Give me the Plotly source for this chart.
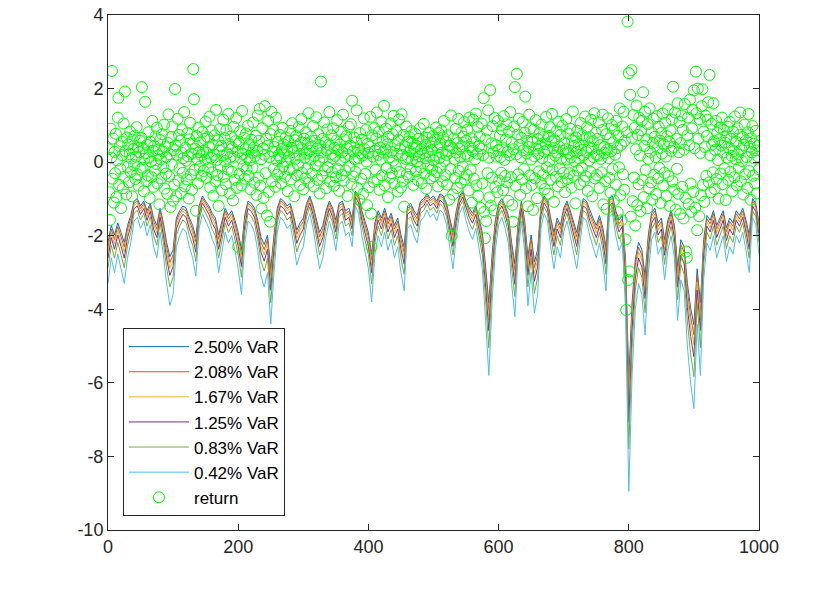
import plotly.graph_objects as go

# ---------------- data ----------------
var_x = list(range(0, 1001, 5))

var_250 = [
-2.18,-1.72,-1.98,-1.65,-1.91,-2.18,-1.72,-1.45,-1.06,-0.99,
-1.19,-1.06,-1.32,-1.12,-1.52,-1.72,-1.25,-1.65,-2.18,-2.57,
-2.38,-1.52,-1.32,-1.19,-1.25,-1.52,-1.72,-2.05,-1.19,-0.92,
-1.06,-1.19,-1.39,-1.52,-1.98,-1.58,-1.25,-1.45,-1.32,-1.58,
-1.91,-2.38,-1.45,-1.06,-1.12,-1.25,-1.58,-2.05,-2.24,-1.98,
-2.90,-1.98,-1.25,-0.99,-1.06,-1.19,-1.12,-1.45,-1.85,-1.65,
-1.52,-1.12,-0.92,-1.19,-1.52,-1.91,-1.72,-1.32,-1.06,-1.25,
-1.58,-1.12,-1.06,-1.32,-1.25,-1.52,-0.79,-0.92,-1.32,-1.65,
-1.91,-2.51,-1.65,-1.32,-1.52,-1.25,-1.58,-1.39,-1.72,-1.52,
-1.98,-2.31,-1.19,-1.12,-1.32,-1.45,-1.06,-0.99,-0.86,-0.99,
-0.92,-1.06,-0.86,-0.92,-1.12,-1.52,-1.91,-1.32,-0.92,-0.79,
-1.06,-1.25,-1.39,-1.19,-1.52,-1.91,-2.84,-3.83,-2.51,-1.58,
-1.12,-0.99,-1.19,-1.45,-2.18,-2.77,-1.65,-1.06,-1.58,-2.57,
-1.98,-2.71,-2.38,-1.19,-0.92,-1.06,-1.52,-1.91,-1.52,-1.72,
-1.25,-1.06,-1.32,-1.65,-1.91,-1.45,-0.99,-1.06,-1.32,-1.52,
-1.72,-1.45,-1.78,-2.31,-0.99,-0.92,-1.32,-1.58,-1.45,-2.64,
-5.91,-3.83,-2.64,-2.18,-2.38,-3.10,-1.98,-1.39,-1.25,-1.65,
-1.52,-2.11,-1.58,-1.32,-1.72,-2.84,-2.11,-2.31,-3.30,-3.96,
-4.42,-2.90,-3.83,-2.11,-1.45,-1.58,-1.32,-1.72,-1.52,-1.32,
-1.78,-1.52,-1.65,-1.32,-1.45,-1.25,-1.58,-1.98,-0.99,-1.12,
-1.65]

var_208 = [
-2.31,-1.82,-2.10,-1.75,-2.03,-2.31,-1.82,-1.54,-1.12,-1.05,
-1.26,-1.12,-1.40,-1.19,-1.61,-1.82,-1.33,-1.75,-2.31,-2.73,
-2.52,-1.61,-1.40,-1.26,-1.33,-1.61,-1.82,-2.17,-1.26,-0.98,
-1.12,-1.26,-1.47,-1.61,-2.10,-1.68,-1.33,-1.54,-1.40,-1.68,
-2.03,-2.52,-1.54,-1.12,-1.19,-1.33,-1.68,-2.17,-2.38,-2.10,
-3.08,-2.10,-1.33,-1.05,-1.12,-1.26,-1.19,-1.54,-1.96,-1.75,
-1.61,-1.19,-0.98,-1.26,-1.61,-2.03,-1.82,-1.40,-1.12,-1.33,
-1.68,-1.19,-1.12,-1.40,-1.33,-1.61,-0.84,-0.98,-1.40,-1.75,
-2.03,-2.66,-1.75,-1.40,-1.61,-1.33,-1.68,-1.47,-1.82,-1.61,
-2.10,-2.45,-1.26,-1.19,-1.40,-1.54,-1.12,-1.05,-0.91,-1.05,
-0.98,-1.12,-0.91,-0.98,-1.19,-1.61,-2.03,-1.40,-0.98,-0.84,
-1.12,-1.33,-1.47,-1.26,-1.61,-2.03,-3.01,-4.06,-2.66,-1.68,
-1.19,-1.05,-1.26,-1.54,-2.31,-2.94,-1.75,-1.12,-1.68,-2.73,
-2.10,-2.87,-2.52,-1.26,-0.98,-1.12,-1.61,-2.03,-1.61,-1.82,
-1.33,-1.12,-1.40,-1.75,-2.03,-1.54,-1.05,-1.12,-1.40,-1.61,
-1.82,-1.54,-1.89,-2.45,-1.05,-0.98,-1.40,-1.68,-1.54,-2.80,
-6.27,-4.06,-2.80,-2.31,-2.52,-3.29,-2.10,-1.47,-1.33,-1.75,
-1.61,-2.24,-1.68,-1.40,-1.82,-3.01,-2.24,-2.45,-3.50,-4.20,
-4.69,-3.08,-4.06,-2.24,-1.54,-1.68,-1.40,-1.82,-1.61,-1.40,
-1.89,-1.61,-1.75,-1.40,-1.54,-1.33,-1.68,-2.10,-1.05,-1.19,
-1.75]

var_167 = [
-2.44,-1.92,-2.22,-1.85,-2.15,-2.44,-1.92,-1.63,-1.18,-1.11,
-1.33,-1.18,-1.48,-1.26,-1.70,-1.92,-1.41,-1.85,-2.44,-2.89,
-2.66,-1.70,-1.48,-1.33,-1.41,-1.70,-1.92,-2.29,-1.33,-1.04,
-1.18,-1.33,-1.55,-1.70,-2.22,-1.78,-1.41,-1.63,-1.48,-1.78,
-2.15,-2.66,-1.63,-1.18,-1.26,-1.41,-1.78,-2.29,-2.52,-2.22,
-3.26,-2.22,-1.41,-1.11,-1.18,-1.33,-1.26,-1.63,-2.07,-1.85,
-1.70,-1.26,-1.04,-1.33,-1.70,-2.15,-1.92,-1.48,-1.18,-1.41,
-1.78,-1.26,-1.18,-1.48,-1.41,-1.70,-0.89,-1.04,-1.48,-1.85,
-2.15,-2.81,-1.85,-1.48,-1.70,-1.41,-1.78,-1.55,-1.92,-1.70,
-2.22,-2.59,-1.33,-1.26,-1.48,-1.63,-1.18,-1.11,-0.96,-1.11,
-1.04,-1.18,-0.96,-1.04,-1.26,-1.70,-2.15,-1.48,-1.04,-0.89,
-1.18,-1.41,-1.55,-1.33,-1.70,-2.15,-3.18,-4.29,-2.81,-1.78,
-1.26,-1.11,-1.33,-1.63,-2.44,-3.11,-1.85,-1.18,-1.78,-2.89,
-2.22,-3.03,-2.66,-1.33,-1.04,-1.18,-1.70,-2.15,-1.70,-1.92,
-1.41,-1.18,-1.48,-1.85,-2.15,-1.63,-1.11,-1.18,-1.48,-1.70,
-1.92,-1.63,-2.00,-2.59,-1.11,-1.04,-1.48,-1.78,-1.63,-2.96,
-6.62,-4.29,-2.96,-2.44,-2.66,-3.48,-2.22,-1.55,-1.41,-1.85,
-1.70,-2.37,-1.78,-1.48,-1.92,-3.18,-2.37,-2.59,-3.70,-4.44,
-4.96,-3.26,-4.29,-2.37,-1.63,-1.78,-1.48,-1.92,-1.70,-1.48,
-2.00,-1.70,-1.85,-1.48,-1.63,-1.41,-1.78,-2.22,-1.11,-1.26,
-1.85]

var_125 = [
-2.61,-2.05,-2.37,-1.98,-2.29,-2.61,-2.05,-1.74,-1.26,-1.19,
-1.42,-1.26,-1.58,-1.34,-1.82,-2.05,-1.50,-1.98,-2.61,-3.08,
-2.84,-1.82,-1.58,-1.42,-1.50,-1.82,-2.05,-2.45,-1.42,-1.11,
-1.26,-1.42,-1.66,-1.82,-2.37,-1.90,-1.50,-1.74,-1.58,-1.90,
-2.29,-2.84,-1.74,-1.26,-1.34,-1.50,-1.90,-2.45,-2.69,-2.37,
-3.48,-2.37,-1.50,-1.19,-1.26,-1.42,-1.34,-1.74,-2.21,-1.98,
-1.82,-1.34,-1.11,-1.42,-1.82,-2.29,-2.05,-1.58,-1.26,-1.50,
-1.90,-1.34,-1.26,-1.58,-1.50,-1.82,-0.95,-1.11,-1.58,-1.98,
-2.29,-3.00,-1.98,-1.58,-1.82,-1.50,-1.90,-1.66,-2.05,-1.82,
-2.37,-2.77,-1.42,-1.34,-1.58,-1.74,-1.26,-1.19,-1.03,-1.19,
-1.11,-1.26,-1.03,-1.11,-1.34,-1.82,-2.29,-1.58,-1.11,-0.95,
-1.26,-1.50,-1.66,-1.42,-1.82,-2.29,-3.40,-4.58,-3.00,-1.90,
-1.34,-1.19,-1.42,-1.74,-2.61,-3.32,-1.98,-1.26,-1.90,-3.08,
-2.37,-3.24,-2.84,-1.42,-1.11,-1.26,-1.82,-2.29,-1.82,-2.05,
-1.50,-1.26,-1.58,-1.98,-2.29,-1.74,-1.19,-1.26,-1.58,-1.82,
-2.05,-1.74,-2.13,-2.77,-1.19,-1.11,-1.58,-1.90,-1.74,-3.16,
-7.07,-4.58,-3.16,-2.61,-2.84,-3.71,-2.37,-1.66,-1.50,-1.98,
-1.82,-2.53,-1.90,-1.58,-2.05,-3.40,-2.53,-2.77,-3.95,-4.74,
-5.29,-3.48,-4.58,-2.53,-1.74,-1.90,-1.58,-2.05,-1.82,-1.58,
-2.13,-1.82,-1.98,-1.58,-1.74,-1.50,-1.90,-2.37,-1.19,-1.34,
-1.98]

var_083 = [
-2.87,-2.26,-2.61,-2.18,-2.52,-2.87,-2.26,-1.91,-1.39,-1.31,
-1.57,-1.39,-1.74,-1.48,-2.00,-2.26,-1.65,-2.18,-2.87,-3.39,
-3.13,-2.00,-1.74,-1.57,-1.65,-2.00,-2.26,-2.70,-1.57,-1.22,
-1.39,-1.57,-1.83,-2.00,-2.61,-2.09,-1.65,-1.91,-1.74,-2.09,
-2.52,-3.13,-1.91,-1.39,-1.48,-1.65,-2.09,-2.70,-2.96,-2.61,
-3.83,-2.61,-1.65,-1.31,-1.39,-1.57,-1.48,-1.91,-2.44,-2.18,
-2.00,-1.48,-1.22,-1.57,-2.00,-2.52,-2.26,-1.74,-1.39,-1.65,
-2.09,-1.48,-1.39,-1.74,-1.65,-2.00,-1.04,-1.22,-1.74,-2.18,
-2.52,-3.31,-2.18,-1.74,-2.00,-1.65,-2.09,-1.83,-2.26,-2.00,
-2.61,-3.05,-1.57,-1.48,-1.74,-1.91,-1.39,-1.31,-1.13,-1.31,
-1.22,-1.39,-1.13,-1.22,-1.48,-2.00,-2.52,-1.74,-1.22,-1.04,
-1.39,-1.65,-1.83,-1.57,-2.00,-2.52,-3.74,-5.05,-3.31,-2.09,
-1.48,-1.31,-1.57,-1.91,-2.87,-3.65,-2.18,-1.39,-2.09,-3.39,
-2.61,-3.57,-3.13,-1.57,-1.22,-1.39,-2.00,-2.52,-2.00,-2.26,
-1.65,-1.39,-1.74,-2.18,-2.52,-1.91,-1.31,-1.39,-1.74,-2.00,
-2.26,-1.91,-2.35,-3.05,-1.31,-1.22,-1.74,-2.09,-1.91,-3.48,
-7.79,-5.05,-3.48,-2.87,-3.13,-4.09,-2.61,-1.83,-1.65,-2.18,
-2.00,-2.78,-2.09,-1.74,-2.26,-3.74,-2.78,-3.05,-4.35,-5.22,
-5.83,-3.83,-5.05,-2.78,-1.91,-2.09,-1.74,-2.26,-2.00,-1.74,
-2.35,-2.00,-2.18,-1.74,-1.91,-1.65,-2.09,-2.61,-1.31,-1.48,
-2.18]

var_042 = [
-3.30,-2.60,-3.00,-2.50,-2.90,-3.30,-2.60,-2.20,-1.60,-1.50,
-1.80,-1.60,-2.00,-1.70,-2.30,-2.60,-1.90,-2.50,-3.30,-3.90,
-3.60,-2.30,-2.00,-1.80,-1.90,-2.30,-2.60,-3.10,-1.80,-1.40,
-1.60,-1.80,-2.10,-2.30,-3.00,-2.40,-1.90,-2.20,-2.00,-2.40,
-2.90,-3.60,-2.20,-1.60,-1.70,-1.90,-2.40,-3.10,-3.40,-3.00,
-4.40,-3.00,-1.90,-1.50,-1.60,-1.80,-1.70,-2.20,-2.80,-2.50,
-2.30,-1.70,-1.40,-1.80,-2.30,-2.90,-2.60,-2.00,-1.60,-1.90,
-2.40,-1.70,-1.60,-2.00,-1.90,-2.30,-1.20,-1.40,-2.00,-2.50,
-2.90,-3.80,-2.50,-2.00,-2.30,-1.90,-2.40,-2.10,-2.60,-2.30,
-3.00,-3.50,-1.80,-1.70,-2.00,-2.20,-1.60,-1.50,-1.30,-1.50,
-1.40,-1.60,-1.30,-1.40,-1.70,-2.30,-2.90,-2.00,-1.40,-1.20,
-1.60,-1.90,-2.10,-1.80,-2.30,-2.90,-4.30,-5.80,-3.80,-2.40,
-1.70,-1.50,-1.80,-2.20,-3.30,-4.20,-2.50,-1.60,-2.40,-3.90,
-3.00,-4.10,-3.60,-1.80,-1.40,-1.60,-2.30,-2.90,-2.30,-2.60,
-1.90,-1.60,-2.00,-2.50,-2.90,-2.20,-1.50,-1.60,-2.00,-2.30,
-2.60,-2.20,-2.70,-3.50,-1.50,-1.40,-2.00,-2.40,-2.20,-4.00,
-8.95,-5.80,-4.00,-3.30,-3.60,-4.70,-3.00,-2.10,-1.90,-2.50,
-2.30,-3.20,-2.40,-2.00,-2.60,-4.30,-3.20,-3.50,-5.00,-6.00,
-6.70,-4.40,-5.80,-3.20,-2.20,-2.40,-2.00,-2.60,-2.30,-2.00,
-2.70,-2.30,-2.50,-2.00,-2.20,-1.90,-2.40,-3.00,-1.50,-1.70,
-2.50]

ret_x = list(range(1, 1001))
returns = [
0.35,-0.82,-1.57,0.91,0.12,2.48,-0.45,0.64,-1.10,0.28,
-0.30,0.77,-0.95,0.05,1.21,1.75,-0.62,0.43,-0.18,-1.25,
0.56,0.19,-0.71,1.05,-0.40,1.92,0.30,-0.88,0.67,-0.12,
0.48,-0.55,0.22,0.83,-0.27,0.10,-0.93,0.61,0.36,-0.08,
0.72,-0.46,0.15,0.95,-0.33,0.40,-0.64,0.27,0.58,-0.20,
0.66,2.04,-0.15,0.38,-0.79,0.09,1.64,0.24,-0.52,0.47,
-0.36,0.81,0.13,-0.98,0.55,0.02,-0.41,1.12,0.31,-0.67,
0.44,-0.23,0.70,-0.05,0.93,-0.58,0.18,0.35,-1.15,0.60,
0.08,-0.44,0.76,0.29,-0.14,1.02,-0.72,0.41,-0.31,0.14,
-0.86,0.52,1.30,-0.39,0.21,-1.22,0.68,-0.07,0.97,-1.05,
0.33,-0.61,1.99,0.45,-0.93,0.20,1.18,-0.50,0.74,-0.17,
0.58,-0.84,0.26,0.89,-0.29,0.11,1.36,-0.66,0.39,0.04,
-0.47,0.79,0.16,-0.99,0.62,1.07,-0.34,0.23,-0.75,0.50,
2.53,1.71,-0.21,0.36,-1.32,0.71,0.09,-0.58,0.94,0.27,
-0.12,0.54,0.19,-0.37,0.82,0.30,-0.24,0.63,0.07,1.10,
-0.43,0.25,0.68,-0.16,0.41,1.24,-0.69,0.12,0.86,-0.28,
0.47,-0.91,0.20,0.73,-0.52,1.42,0.06,-0.35,0.59,-1.19,
0.32,0.90,-0.10,0.44,-0.77,0.18,1.15,-0.40,0.65,0.03,
-0.60,0.87,0.24,-0.19,1.31,0.49,-0.85,0.14,0.70,-0.26,
0.38,-1.04,0.96,0.15,-0.48,0.57,1.20,-0.70,0.28,-2.30,
0.51,-0.32,0.84,0.10,-0.63,1.39,0.22,-0.11,0.66,-0.45,
0.35,0.78,-0.20,0.13,0.99,-0.38,0.46,0.05,-0.74,0.61,
0.26,-0.15,1.08,0.40,-0.56,0.17,0.72,-0.89,0.31,1.27,
-0.42,0.58,1.45,-0.64,0.08,-1.26,0.92,0.37,-0.97,0.20,
1.52,-0.30,0.63,-1.45,0.45,1.12,-0.81,0.14,-1.62,0.76,
1.37,-0.52,0.29,0.88,-0.18,0.41,-0.67,1.21,0.06,-0.34,
0.55,0.19,-0.25,0.74,0.11,-0.58,0.36,0.93,-0.12,0.48,
0.24,-0.40,0.67,0.02,0.33,-0.79,0.57,0.15,-0.21,0.85,
-0.47,0.39,1.06,-0.16,0.27,-0.93,0.60,0.09,0.71,-0.36,
0.43,-0.08,0.95,0.18,-0.62,0.52,1.17,-0.29,0.35,-0.74,
0.64,0.12,-0.44,0.81,0.23,-0.17,0.50,1.33,-0.56,0.30,
0.07,0.69,-0.31,0.42,0.98,-0.66,0.16,0.58,-0.09,1.22,
0.37,-0.48,0.76,0.04,-0.85,0.45,2.19,0.26,-0.37,0.63,
0.13,1.08,-0.22,0.54,-0.71,0.32,0.89,-0.14,0.47,1.36,
-0.53,0.21,0.73,-0.27,0.10,0.92,-0.64,0.39,0.17,-0.41,
0.59,1.14,-0.19,0.34,-0.78,0.48,0.05,0.83,-0.35,0.27,
1.29,-0.50,0.62,0.14,-0.23,0.71,0.38,-0.92,0.20,0.96,
-0.13,0.45,1.03,-0.60,1.67,0.29,-0.39,0.67,0.08,-0.26,
0.54,1.41,-0.70,0.33,0.11,-1.02,0.79,0.24,-0.45,0.61,
0.18,-0.86,1.19,0.36,-0.32,0.87,0.02,-1.17,0.50,0.25,
-0.68,0.42,1.23,-1.40,-2.30,0.73,0.15,-0.54,0.93,0.31,
-0.21,0.64,1.35,-0.47,0.20,0.82,-0.75,0.40,0.07,1.10,
-0.36,0.57,0.26,1.53,-0.63,0.35,0.91,-0.16,0.48,-0.95,
0.69,0.13,-0.42,1.05,0.28,-0.30,0.76,0.04,1.26,-0.58,
0.46,-0.11,0.85,0.22,-0.80,0.60,1.16,-0.27,0.37,-0.69,
1.30,0.19,-0.51,0.74,-1.21,0.43,0.09,0.97,-0.33,0.55,
0.12,-0.40,0.68,0.30,-0.18,0.84,0.06,0.51,-0.62,0.39,
0.21,0.77,-0.25,0.44,0.01,-0.49,0.63,0.16,0.92,-0.14,
0.35,-0.57,0.58,0.24,1.04,-0.31,0.47,0.10,-0.72,0.66,
0.28,-0.09,0.80,0.15,-0.44,0.53,0.33,-0.20,0.71,0.05,
-0.38,0.61,0.18,0.94,-0.27,0.40,-0.66,0.79,0.11,0.49,
-0.15,0.86,0.25,-0.52,0.67,1.12,0.03,-0.35,0.56,0.20,
-0.61,0.73,0.31,-1.02,0.45,-0.19,1.27,-2.00,0.38,-0.88,
0.64,0.09,-0.43,0.90,0.26,-0.70,0.52,1.18,-0.24,0.36,
0.14,-0.56,0.81,0.43,-0.12,0.69,1.09,-0.47,0.22,0.58,
-0.34,0.88,0.17,-0.77,1.21,0.41,-0.20,0.65,-1.10,0.30,
1.15,-0.45,0.54,0.08,1.32,-0.63,0.23,0.96,-0.92,0.44,
0.70,-1.24,0.37,1.05,-0.58,0.19,1.74,-1.35,-2.07,0.62,
-1.60,0.86,-0.30,1.41,0.12,-0.96,1.96,-1.18,0.51,-0.42,
0.98,0.27,-1.31,1.20,-0.67,0.46,0.15,-0.82,1.12,0.33,
-0.50,0.72,0.14,-0.29,0.89,0.40,-0.76,1.25,0.06,-0.38,
0.61,1.03,-0.55,0.28,-1.05,0.83,0.19,1.36,-0.41,0.53,
-1.16,-1.62,0.35,0.97,2.04,-0.64,0.21,2.40,0.75,-0.33,
1.18,0.47,-0.89,0.13,0.66,-0.47,1.09,0.32,-0.19,0.80,
1.78,-0.71,0.24,0.58,-1.20,0.41,1.29,-0.36,0.92,0.07,
-0.62,0.55,-1.30,0.88,0.16,-0.44,1.14,0.37,-0.98,0.63,
0.22,-0.25,0.79,0.45,-0.57,1.02,0.11,-0.35,0.68,0.29,
-0.73,0.49,1.23,-0.14,0.34,-0.86,0.71,0.03,0.95,-0.48,
0.56,1.31,-0.21,0.38,-1.08,0.60,0.18,-0.40,0.84,0.26,
-0.66,1.10,0.42,-0.17,0.74,0.09,-0.54,0.99,0.31,-0.29,
0.52,-0.82,0.35,1.17,0.07,-0.46,0.78,0.24,-0.30,0.91,
0.13,-0.69,0.59,1.38,-0.37,0.44,0.02,-1.12,0.67,0.28,
0.85,-0.23,0.49,0.10,-0.60,1.06,0.33,-0.15,0.73,0.19,
-0.51,0.62,1.24,-0.39,0.27,0.94,-0.78,0.40,0.05,0.68,
-0.26,1.15,0.36,-0.93,0.57,0.14,1.33,-0.44,0.80,0.21,
-0.35,0.63,0.18,1.08,-0.70,0.46,0.09,-0.28,0.87,1.29,
-1.15,0.41,0.25,-0.52,0.76,-1.27,0.34,1.19,0.11,-0.43,
0.65,-0.83,0.30,1.01,-0.19,0.54,-1.04,0.88,0.20,-0.61,
1.12,0.38,-1.36,0.72,-0.14,1.46,-0.90,0.47,-1.58,0.97,
-0.33,1.37,-0.75,0.58,-2.10,-4.02,0.81,3.82,-3.20,2.42,
-2.97,1.83,-1.48,2.50,0.66,-1.06,1.28,-0.42,0.93,-1.72,
0.35,1.54,-1.17,0.74,-0.60,1.21,0.18,-1.33,0.87,1.12,
-0.49,1.90,-0.95,0.44,1.37,-0.21,0.62,-1.26,1.03,0.09,
-0.71,1.46,0.28,-0.55,0.81,-1.02,0.51,1.18,-0.34,0.69,
0.14,-0.87,1.25,0.37,-0.44,0.96,-0.16,0.58,-1.11,0.79,
0.23,1.32,-0.63,0.48,-0.29,1.07,0.15,-0.92,0.70,1.44,
-0.38,0.55,-1.19,0.86,0.31,1.16,-0.52,2.05,0.41,-0.75,
1.35,-1.29,0.63,-0.18,1.60,-0.86,0.27,1.09,-1.41,0.52,
1.27,-0.67,0.88,-1.53,0.34,1.58,-0.97,-2.43,-2.60,0.73,
1.21,-1.14,0.46,1.70,-0.58,-1.35,0.92,1.42,-0.81,1.95,
0.38,-1.24,2.46,1.33,-1.85,2.00,0.64,-1.47,1.17,0.25,
-0.90,1.52,1.98,-0.62,0.83,-1.08,0.41,1.26,-0.37,0.71,
1.15,1.63,-0.55,2.37,0.19,-0.82,1.04,0.48,-0.28,1.60,
0.57,-0.73,0.33,1.12,-0.46,0.79,0.06,-0.99,0.62,0.94,
-0.31,0.45,1.21,-0.60,0.26,0.87,-0.17,0.53,-1.03,0.70,
0.12,0.96,-0.48,0.39,1.10,-0.26,0.64,0.17,-0.79,0.83,
0.30,-0.41,1.24,0.08,0.55,-0.63,0.92,0.21,-0.15,0.74,
1.35,-0.52,0.36,0.03,0.68,-0.88,0.47,1.02,-0.33,0.59,
0.14,-0.70,0.81,1.31,-0.24,0.42,-1.02,0.65,0.27,0.98,
-0.37,0.50,0.10,-0.58,0.85,0.32,-0.85,0.44,0.15,-0.19]

var_names = ["2.50% VaR", "2.08% VaR", "1.67% VaR", "1.25% VaR", "0.83% VaR", "0.42% VaR"]
var_series = [var_250, var_208, var_167, var_125, var_083, var_042]
var_colors = ["#0072BD", "#D95319", "#EDB120", "#7E2F8E", "#77AC30", "#4DBEEE"]

x_ticks = [0, 200, 400, 600, 800, 1000]
x_tick_labels = ["0", "200", "400", "600", "800", "1000"]
y_ticks = [-10, -8, -6, -4, -2, 0, 2, 4]
y_tick_labels = ["-10", "-8", "-6", "-4", "-2", "0", "2", "4"]

# ---------------- figure ----------------
FONT = "Liberation Sans, Arial, Helvetica, sans-serif"
AX = "#262626"

fig = go.Figure()
for name, ys, col in zip(var_names, var_series, var_colors):
    fig.add_trace(go.Scatter(x=var_x, y=ys, mode="lines", name=name,
                             line=dict(color=col, width=1)))
fig.add_trace(go.Scatter(x=ret_x, y=returns, mode="markers", name="return",
                         marker=dict(symbol="circle-open", size=11,
                                     color="#00FF00", line=dict(width=1, color="#00FF00"))))

axis_common = dict(showgrid=False, zeroline=False, showline=True, linecolor=AX,
                   linewidth=1, mirror="ticks", ticks="inside", ticklen=6,
                   tickcolor=AX, automargin=False, ticklabeloverflow="allow",
                   tickfont=dict(family=FONT, size=18, color=AX))

fig.update_layout(
    width=832, height=594,
    margin=dict(l=108, r=73, t=15, b=64),
    paper_bgcolor="white", plot_bgcolor="white",
    showlegend=True,
    legend=dict(x=0.023, y=0.027, xanchor="left", yanchor="bottom",
                bgcolor="white", bordercolor="#262626", borderwidth=1,
                font=dict(family=FONT, size=17, color="black"),
                itemwidth=60, tracegroupgap=0),
    xaxis=dict(range=[0, 1000], tickvals=x_ticks, ticktext=x_tick_labels, **axis_common),
    yaxis=dict(range=[-10, 4], tickvals=y_ticks, ticktext=y_tick_labels, **axis_common),
)

fig.write_html("out.html",
               config={"displayModeBar": False},
               post_script="document.body.style.margin='0';document.body.style.overflow='hidden';")
